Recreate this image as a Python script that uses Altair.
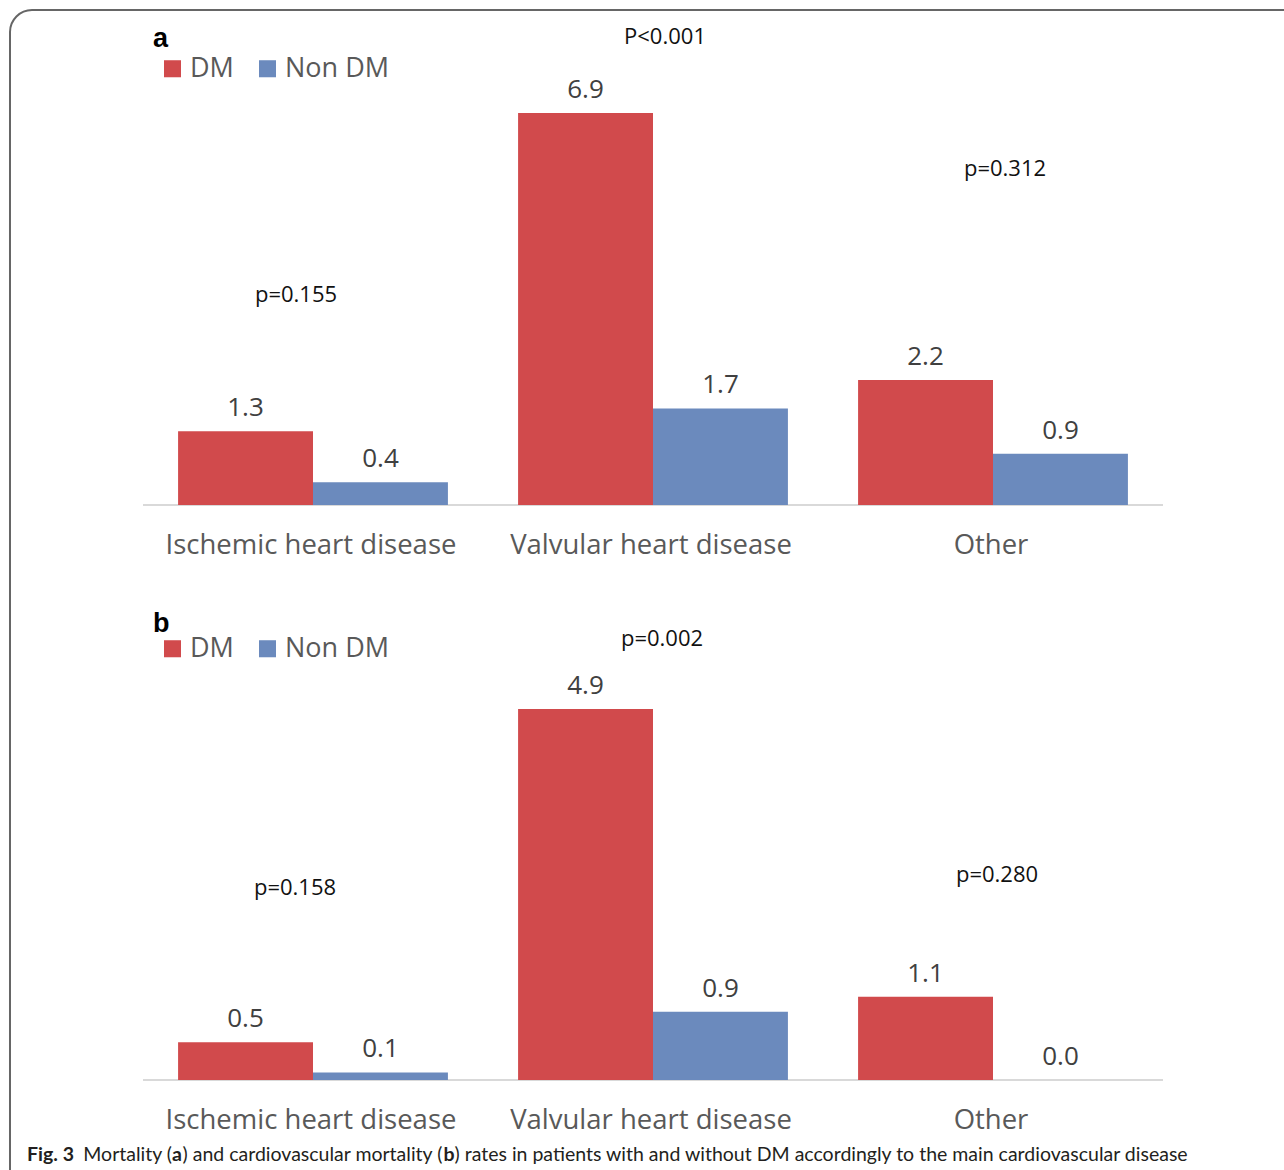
import altair as alt
import pandas as pd

# Data
categories = ["Ischemic heart disease", "Valvular heart disease", "Other"]
groups = ["DM", "Non DM"]
mortality_dm = [1.3, 6.9, 2.2]
mortality_non_dm = [0.4, 1.7, 0.9]
cv_mortality_dm = [0.5, 4.9, 1.1]
cv_mortality_non_dm = [0.1, 0.9, 0.0]
p_values_a = ["p=0.155", "P<0.001", "p=0.312"]
p_values_b = ["p=0.158", "p=0.002", "p=0.280"]
colors = ["#D14A4C", "#6B8ABD"]

W, H = 1284, 1170
FONT = "Open Sans"
CAPTION_FONT = "Lato"
GREY = "#595959"
X_RANGE = [143, 1163]


def frame(dm, non_dm):
    rows = []
    for c, a, b in zip(categories, dm, non_dm):
        rows.append({"cat": c, "grp": "DM", "val": a})
        rows.append({"cat": c, "grp": "Non DM", "val": b})
    return pd.DataFrame(rows)


def panel(df, ymax, base_px, top_px, legend_y, label_y):
    x = alt.X("cat:N", sort=categories, axis=None,
              scale=alt.Scale(range=X_RANGE, paddingInner=0, paddingOuter=0))
    xo = alt.XOffset("grp:N", sort=groups,
                     scale=alt.Scale(paddingInner=0, paddingOuter=0.26))
    y = alt.Y("val:Q", axis=None,
              scale=alt.Scale(domain=[0, ymax], range=[base_px, top_px],
                              nice=False, zero=True))
    color = alt.Color(
        "grp:N", sort=groups,
        scale=alt.Scale(domain=groups, range=colors),
        legend=alt.Legend(
            orient="none", legendX=159, legendY=legend_y,
            direction="horizontal", title=None,
            symbolType="square", symbolSize=290, symbolStrokeWidth=0,
            labelFont=FONT, labelFontSize=27, labelColor=GREY,
            labelOffset=4, columnPadding=20, padding=0,
        ),
    )
    base = alt.Chart(df)
    axis_line = alt.Chart(alt.Data(values=[{}])).mark_rule(
        color="#D9D9D9", strokeWidth=2
    ).encode(x=alt.value(X_RANGE[0]), x2=alt.value(X_RANGE[1]),
             y=alt.value(base_px))
    bars = base.mark_bar(strokeWidth=0).encode(
        x=x, xOffset=xo, y=y, color=color)
    values = base.mark_text(
        font=FONT, fontSize=26, color="#404040", baseline="middle", dy=-23
    ).encode(x=x, xOffset=xo, y=y, text=alt.Text("val:Q", format=".1f"))
    cat_labels = alt.Chart(pd.DataFrame({"cat": categories})).mark_text(
        font=FONT, fontSize=27.5, color=GREY, baseline="middle", dx=-2
    ).encode(x=x, y=alt.value(label_y), text="cat:N")
    return alt.layer(axis_line, bars, values, cat_labels)


def note(text, x, y, size=22, font=FONT, weight="normal", color="#111111",
         align="center", baseline="middle"):
    return alt.Chart(alt.Data(values=[{}])).mark_text(
        text=text, font=font, fontSize=size, fontWeight=weight, color=color,
        align=align, baseline=baseline,
    ).encode(x=alt.value(x), y=alt.value(y))


panel_a = panel(frame(mortality_dm, mortality_non_dm), 6.9, 505, 113, 55, 546)
panel_b = panel(frame(cv_mortality_dm, cv_mortality_non_dm), 4.9, 1080, 709,
                635, 1121)

# Outer figure frame (rounded corner at the top left)
border = alt.Chart(alt.Data(values=[{}])).mark_rect(
    fillOpacity=0, stroke="#666666", strokeWidth=2, cornerRadius=22
).encode(x=alt.value(10), x2=alt.value(W + 40), y=alt.value(10),
         y2=alt.value(H + 40))

notes = [
    note("a", 153, 47, size=27, font="Liberation Sans", weight="bold",
         color="#000000", align="left", baseline="alphabetic"),
    note("b", 153, 632, size=27, font="Liberation Sans", weight="bold",
         color="#000000", align="left", baseline="alphabetic"),
    note(p_values_a[0], 296, 295),
    note(p_values_a[1], 665, 37),
    note(p_values_a[2], 1005, 169),
    note(p_values_b[0], 295, 888),
    note(p_values_b[1], 662, 639),
    note(p_values_b[2], 997, 875),
]

# Caption, set in runs so the panel letters can be bold
cap_y = 1161
cap_size = 19.5
cap_color = "#231f20"
a_x = 172
mid_x = a_x + 10.5
b_x = mid_x + 261
tail_x = b_x + 11


def cap(text, x, weight="normal", align="left"):
    return note(text, x, cap_y, size=cap_size, font=CAPTION_FONT,
                weight=weight, color=cap_color, align=align,
                baseline="alphabetic")


caption = [
    cap("Fig. 3", 27, weight="bold"),
    cap("Mortality (", a_x, align="right"),
    cap("a", a_x, weight="bold"),
    cap(") and cardiovascular mortality (", mid_x),
    cap("b", b_x, weight="bold"),
    cap(") rates in patients with and without DM accordingly to the main "
        "cardiovascular disease", tail_x),
]

chart = alt.layer(border, panel_a, panel_b, *notes, *caption).resolve_scale(
    x="independent", y="independent", xOffset="independent",
    color="independent",
).properties(
    width=W, height=H, padding=0,
    autosize=alt.AutoSizeParams(type="none"),
    background="white",
).configure_view(stroke=None)

chart.save("out.html", embed_options={"renderer": "svg", "actions": False})
